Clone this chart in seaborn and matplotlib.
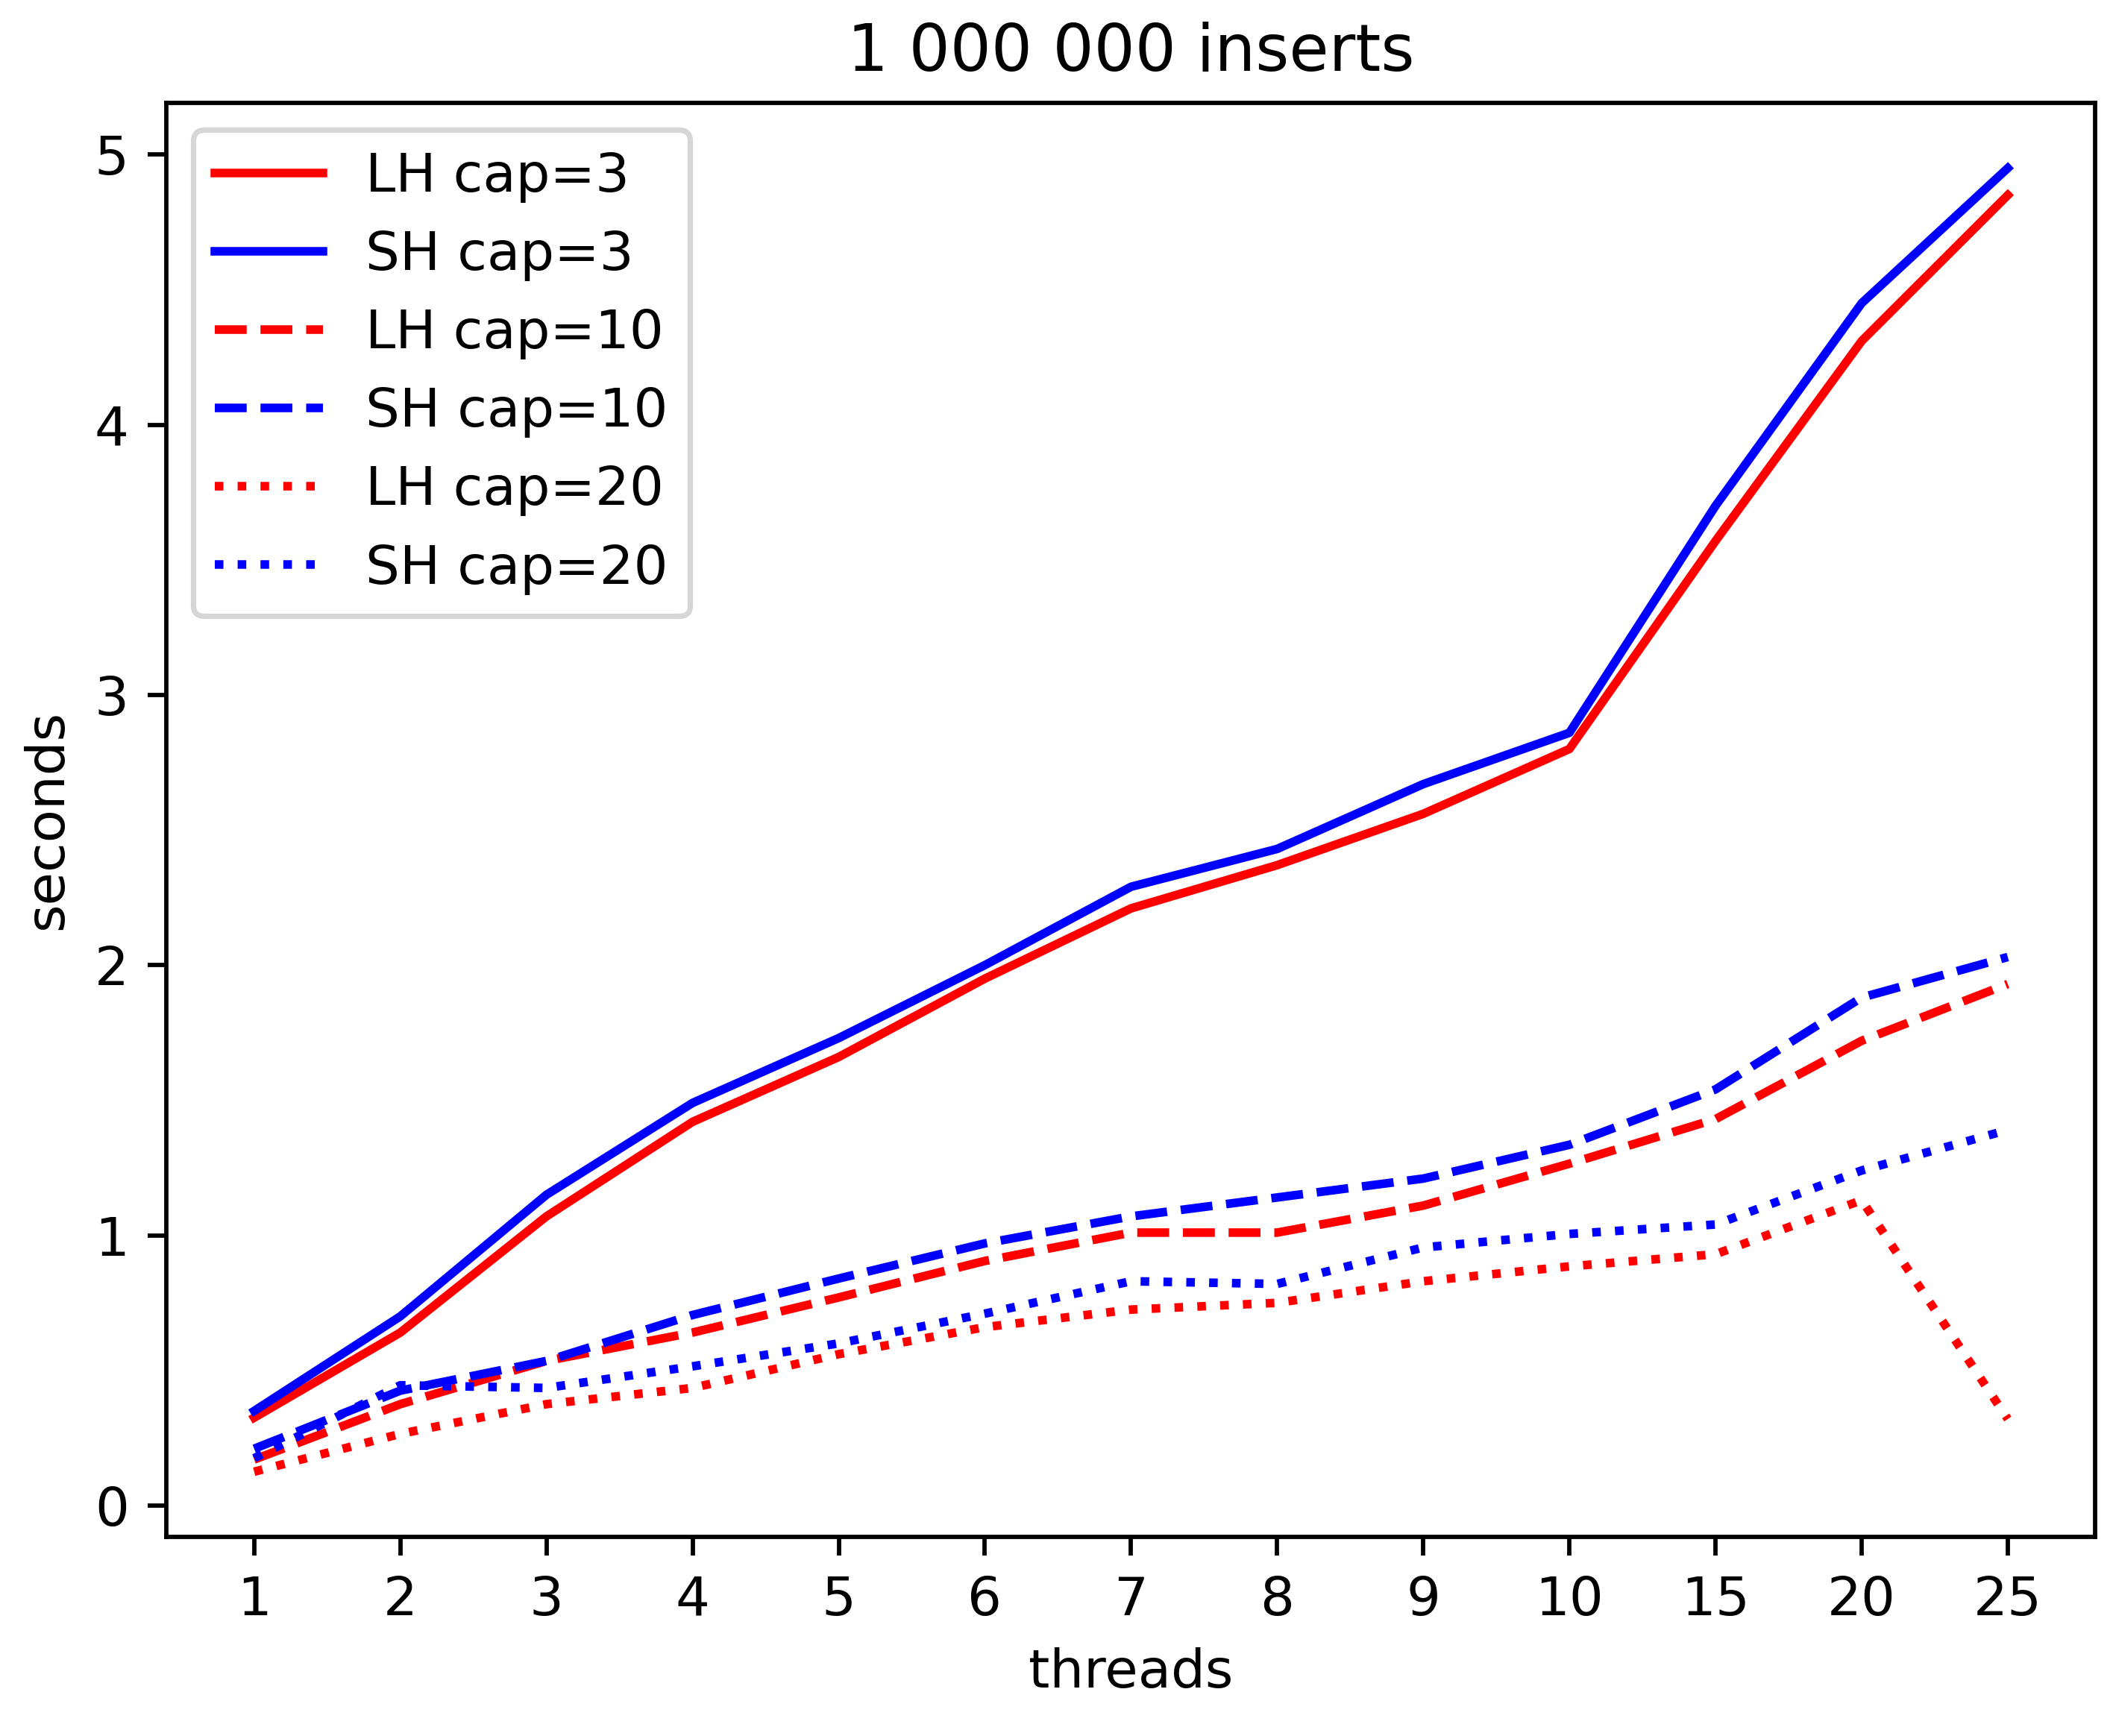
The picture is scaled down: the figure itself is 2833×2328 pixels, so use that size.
import matplotlib
matplotlib.use("Agg")
import matplotlib.pyplot as plt
import seaborn as sns
import pandas as pd

threads = ["1", "2", "3", "4", "5", "6", "7", "8", "9", "10", "15", "20", "25"]

lh_cap3 = [0.325, 0.64, 1.07, 1.42, 1.66, 1.95, 2.21, 2.37, 2.56, 2.80, 3.57, 4.31, 4.85]
sh_cap3 = [0.35, 0.70, 1.15, 1.49, 1.73, 2.00, 2.29, 2.43, 2.67, 2.86, 3.70, 4.45, 4.95]
lh_cap10 = [0.17, 0.375, 0.535, 0.64, 0.77, 0.905, 1.01, 1.01, 1.11, 1.265, 1.43, 1.72, 1.93]
sh_cap10 = [0.21, 0.425, 0.535, 0.705, 0.84, 0.97, 1.07, 1.14, 1.21, 1.335, 1.54, 1.88, 2.03]
lh_cap20 = [0.125, 0.265, 0.375, 0.435, 0.56, 0.66, 0.725, 0.75, 0.83, 0.885, 0.93, 1.13, 0.32]
sh_cap20 = [0.175, 0.445, 0.435, 0.515, 0.60, 0.71, 0.83, 0.82, 0.955, 1.005, 1.04, 1.24, 1.39]

series = [
    ("LH cap=3", lh_cap3, "red", "-"),
    ("SH cap=3", sh_cap3, "blue", "-"),
    ("LH cap=10", lh_cap10, "red", "--"),
    ("SH cap=10", sh_cap10, "blue", "--"),
    ("LH cap=20", lh_cap20, "red", ":"),
    ("SH cap=20", sh_cap20, "blue", ":"),
]

W, H, DPI = 2833, 2328, 520
fig = plt.figure(figsize=(W / DPI, H / DPI), dpi=DPI)
ax = fig.add_axes([0.0788, 0.1147, 0.9129, 0.8260])

pos = list(range(len(threads)))
for name, vals, color, ls in series:
    df = pd.DataFrame({"pos": pos, "seconds": vals})
    sns.lineplot(data=df, x="pos", y="seconds", color=color, linestyle=ls,
                 linewidth=1.6, label=name, ax=ax)

ax.set_xticks(pos)
ax.set_xticklabels(threads)
ax.set_xlabel("threads")
ax.set_ylabel("seconds")
ax.set_title("1 000 000 inserts")
ax.legend(loc="upper left")

fig.savefig("out.png", dpi=DPI)
